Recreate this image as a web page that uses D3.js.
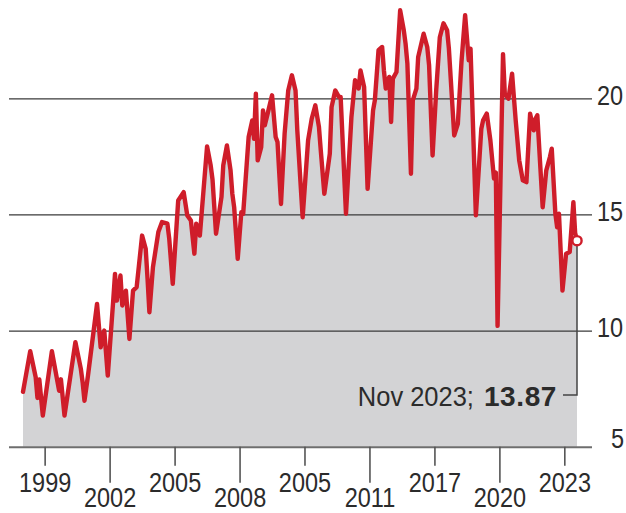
<!DOCTYPE html>
<html>
<head>
<meta charset="utf-8">
<script src="https://cdn.jsdelivr.net/npm/d3@7"></script>
<style>
  html, body { margin: 0; padding: 0; background: #fff; }
  svg { display: block; }
  text { font-family: "Liberation Sans", Arial, sans-serif; fill: #2b2b2b; }
</style>
</head>
<body>
<svg id="chart" width="626" height="513"></svg>
<script>
// Monthly series, April 1998 – November 2023 (turning points)
const months = [
  "1998-04","1998-08","1998-11","1998-12","1999-01","1999-03","1999-08","1999-12","2000-01","2000-03",
  "2000-09","2000-12","2001-01","2001-02","2001-04","2001-09","2001-11","2002-01","2002-03","2002-06",
  "2002-07","2002-08","2002-10","2002-11","2003-01","2003-03","2003-05","2003-07","2003-10","2003-12",
  "2004-01","2004-02","2004-04","2004-07","2004-09","2004-12","2005-01","2005-03","2005-06","2005-09",
  "2005-11","2006-01","2006-03","2006-04","2006-06","2006-10","2006-12","2007-01","2007-03","2007-06",
  "2007-07","2007-09","2007-11","2007-12","2008-01","2008-03","2008-05","2008-06","2008-09","2008-11",
  "2008-12","2009-01","2009-02","2009-04","2009-05","2009-06","2009-08","2009-10","2009-12","2010-01",
  "2010-03","2010-05","2010-07","2010-09","2010-11","2010-12","2011-03","2011-06","2011-08","2011-10",
  "2011-12","2012-01","2012-03","2012-06","2012-07","2012-09","2012-11","2012-12","2013-03","2013-06",
  "2013-08","2013-10","2013-11","2014-01","2014-03","2014-06","2014-07","2014-09","2014-11","2014-12",
  "2015-01","2015-03","2015-04","2015-05","2015-07","2015-09","2015-11","2015-12","2016-01","2016-03",
  "2016-04","2016-06","2016-07","2016-10","2016-12","2017-01","2017-03","2017-05","2017-07","2017-09",
  "2017-11","2017-12","2018-03","2018-05","2018-07","2018-09","2018-11","2018-12","2019-03","2019-06",
  "2019-07","2019-09","2019-11","2020-01","2020-02","2020-03","2020-06","2020-07","2020-09","2020-11",
  "2020-12","2021-01","2021-03","2021-05","2021-07","2021-09","2021-11","2021-12","2022-01","2022-04",
  "2022-06","2022-08","2022-09","2022-11","2022-12","2023-01","2023-03","2023-05","2023-07","2023-09",
  "2023-10","2023-11"
];
const values = [
  7.36, 9.11, 7.99, 7.10, 7.90, 6.34, 9.11, 7.41, 7.90, 6.34,
  9.50, 8.36, 7.77, 6.98, 8.06, 11.15, 9.28, 10.00, 8.06, 11.30,
  12.44, 11.29, 12.37, 11.08, 11.72, 9.64, 11.72, 11.87, 14.09, 13.52,
  12.23, 10.79, 12.73, 14.24, 14.67, 14.60, 13.95, 12.01, 15.60, 15.96,
  14.96, 14.74, 13.31, 14.60, 14.09, 17.93, 17.11, 16.50, 14.17, 15.75,
  17.11, 17.97, 16.90, 15.89, 15.31, 13.09, 15.10, 15.03, 18.33, 19.05,
  18.26, 20.20, 17.33, 17.90, 19.48, 18.84, 19.48, 20.13, 18.33, 18.12,
  15.45, 18.48, 20.34, 20.99, 20.34, 18.62, 14.88, 18.19, 19.12, 19.70,
  18.77, 17.76, 15.89, 17.61, 19.62, 20.34, 20.06, 20.06, 15.03, 19.19,
  20.78, 20.42, 21.20, 20.49, 16.10, 19.48, 19.91, 22.07, 22.21, 21.20,
  20.42, 20.92, 18.98, 20.85, 21.13, 23.79, 22.93, 22.36, 21.50, 16.75,
  19.91, 20.42, 21.78, 22.78, 22.21, 21.42, 17.54, 20.34, 22.63, 23.23,
  22.93, 22.14, 18.40, 18.90, 21.56, 23.58, 21.64, 22.14, 14.96, 18.69,
  19.05, 19.34, 18.19, 16.54, 16.80, 10.20, 21.90, 20.20, 19.98, 21.06,
  20.06, 19.05, 17.33, 16.47, 16.39, 19.34, 18.62, 19.12, 19.27, 15.31,
  16.90, 17.47, 17.83, 15.03, 14.45, 15.03, 11.72, 13.31, 13.38, 15.53,
  14.20, 13.87
];

// Axis ticks
const yTicks = [5, 10, 15, 20];
const xTickMonths = ["1999-04","2002-04","2005-04","2008-04","2011-04","2014-04","2017-04","2020-04","2023-04"];
const xTickLabels = ["1999","2002","2005","2008","2005","2011","2017","2020","2023"];

const parse = d3.utcParse("%Y-%m");
const data = months.map((m, i) => ({ date: parse(m), value: values[i] }));
const last = data[data.length - 1];

const svg = d3.select("#chart");
const gridLeft = 9, gridRight = 592;
const FONT = 28, SQUEEZE = 0.84;   // condensed lettering

const x = d3.scaleUtc()
  .domain([data[0].date, last.date])
  .range([23, 577]);
const y = d3.scaleLinear()
  .domain([5, 20])
  .range([446.7, 98.3]);

// Shaded area under the series
svg.append("path")
  .datum(data)
  .attr("fill", "#d3d3d5")
  .attr("d", d3.area().x(d => x(d.date)).y0(y(5)).y1(d => y(d.value)));

// Horizontal grid + right-hand labels
const yAxis = svg.append("g")
  .attr("transform", `translate(${gridRight},0)`)
  .call(d3.axisRight(y).tickValues(yTicks).tickSize(-(gridRight - gridLeft)).tickFormat(d3.format("d")));
yAxis.select(".domain").remove();
yAxis.selectAll(".tick line")
  .attr("stroke", d => d === 5 ? "#6e6e6e" : "#3a3a3a")
  .attr("stroke-width", d => d === 5 ? 2 : 1.3);
yAxis.selectAll(".tick text")
  .attr("font-size", FONT)
  .attr("fill", "#2b2b2b")
  .attr("x", 0)
  .attr("dy", 0)
  .attr("y", d => d === 5 ? 1 : 6)
  .attr("text-anchor", d => d === 5 ? "end" : "start")
  .attr("transform", d => `translate(${d === 5 ? 32 : 5},0) scale(${SQUEEZE},1)`);

// Bottom ticks, alternately short and long
const xAxis = svg.append("g")
  .attr("transform", `translate(0,${y(5)})`)
  .call(d3.axisBottom(x).tickValues(xTickMonths.map(parse)).tickFormat((d, i) => xTickLabels[i]).tickSize(0));
xAxis.select(".domain").remove();
xAxis.selectAll(".tick line")
  .attr("stroke", "#555")
  .attr("stroke-width", 1.6)
  .attr("y2", (d, i) => i % 2 ? 36 : 19);
xAxis.selectAll(".tick text")
  .attr("font-size", FONT)
  .attr("fill", "#2b2b2b")
  .attr("dy", 0)
  .attr("y", (d, i) => i % 2 ? 60 : 45)
  .attr("transform", `scale(${SQUEEZE},1)`);

// Red series line
svg.append("path")
  .datum(data)
  .attr("fill", "none")
  .attr("stroke", "#cf1d2a")
  .attr("stroke-width", 4.4)
  .attr("stroke-linejoin", "round")
  .attr("stroke-linecap", "round")
  .attr("d", d3.line().x(d => x(d.date)).y(d => y(d.value)));

// Callout for the latest value
const lx = x(last.date), ly = y(last.value);
const calloutY = 395;
svg.append("path")
  .attr("fill", "none")
  .attr("stroke", "#444")
  .attr("stroke-width", 1.5)
  .attr("d", `M${lx},${ly}V${calloutY}H${lx - 14}`);

svg.append("circle")
  .attr("cx", lx).attr("cy", ly).attr("r", 4.6)
  .attr("fill", "#fff")
  .attr("stroke", "#cf1d2a")
  .attr("stroke-width", 2.4);

const valueText = svg.append("text")
  .attr("x", lx - 20)
  .attr("y", calloutY + 11)
  .attr("text-anchor", "end")
  .attr("font-size", FONT)
  .attr("font-weight", "bold")
  .attr("letter-spacing", "0.6px")
  .text(d3.format(".2f")(last.value));
const valueLeft = lx - 20 - valueText.node().getComputedTextLength();

svg.append("text")
  .attr("x", 0)
  .attr("y", calloutY + 11)
  .attr("text-anchor", "end")
  .attr("font-size", FONT)
  .attr("transform", `translate(${valueLeft - 10},0) scale(0.91,1)`)
  .text(d3.utcFormat("%b %Y")(last.date) + ";");
</script>
</body>
</html>
